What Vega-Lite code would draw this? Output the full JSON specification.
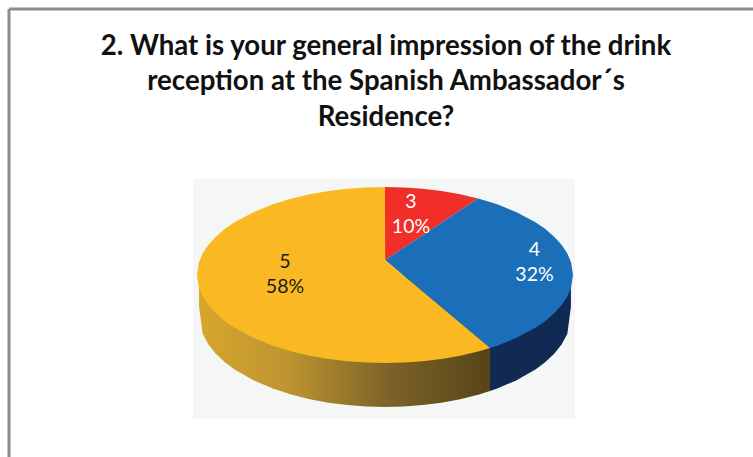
{
"$schema":"https://vega.github.io/schema/vega-lite/v6.json",
"width":744,"height":448,
"autosize":{"type":"none"},
"padding":{"left":9,"top":9,"right":0,"bottom":0},
"background":"white",
"view":{"stroke":null},
"title":{"text":["2. What is your general impression of the drink","reception at the Spanish Ambassador´s","Residence?"],"anchor":"middle","frame":"group","dx":5,"offset":-124,"font":"Lato","fontWeight":"bold","fontSize":27.6,"lineHeight":35.5,"color":"#111111"},
"datasets":{
"top":[
{"slice":"3","x":0,"y":1,"y2":0.17},{"slice":"3","x":0.1,"y":0.995,"y2":0.311},{"slice":"3","x":0.2,"y":0.98,"y2":0.453},{"slice":"3","x":0.3,"y":0.954,"y2":0.594},{"slice":"3","x":0.4,"y":0.917,"y2":0.735},{"slice":"3","x":0.4947,"y":0.869,"y2":0.869},
{"slice":"4","x":0,"y":0.17,"y2":0.17},{"slice":"4","x":0.1,"y":0.311,"y2":-0.009},{"slice":"4","x":0.2,"y":0.453,"y2":-0.188},{"slice":"4","x":0.3,"y":0.594,"y2":-0.367},{"slice":"4","x":0.4,"y":0.735,"y2":-0.546},{"slice":"4","x":0.4947,"y":0.869,"y2":-0.716},{"slice":"4","x":0.5585,"y":0.83,"y2":-0.83},{"slice":"4","x":0.6,"y":0.8,"y2":-0.8},{"slice":"4","x":0.7,"y":0.714,"y2":-0.714},{"slice":"4","x":0.8,"y":0.6,"y2":-0.6},{"slice":"4","x":0.85,"y":0.527,"y2":-0.527},{"slice":"4","x":0.9,"y":0.436,"y2":-0.436},{"slice":"4","x":0.94,"y":0.341,"y2":-0.341},{"slice":"4","x":0.97,"y":0.243,"y2":-0.243},{"slice":"4","x":0.99,"y":0.141,"y2":-0.141},{"slice":"4","x":1,"y":0,"y2":0},
{"slice":"5","x":-1,"y":0,"y2":0},{"slice":"5","x":-0.99,"y":0.141,"y2":-0.141},{"slice":"5","x":-0.97,"y":0.243,"y2":-0.243},{"slice":"5","x":-0.94,"y":0.341,"y2":-0.341},{"slice":"5","x":-0.9,"y":0.436,"y2":-0.436},{"slice":"5","x":-0.85,"y":0.527,"y2":-0.527},{"slice":"5","x":-0.8,"y":0.6,"y2":-0.6},{"slice":"5","x":-0.7,"y":0.714,"y2":-0.714},{"slice":"5","x":-0.6,"y":0.8,"y2":-0.8},{"slice":"5","x":-0.5,"y":0.866,"y2":-0.866},{"slice":"5","x":-0.4,"y":0.917,"y2":-0.917},{"slice":"5","x":-0.3,"y":0.954,"y2":-0.954},{"slice":"5","x":-0.2,"y":0.98,"y2":-0.98},{"slice":"5","x":-0.1,"y":0.995,"y2":-0.995},{"slice":"5","x":0,"y":1,"y2":-1},{"slice":"5","x":0.001,"y":0.17,"y2":-1},{"slice":"5","x":0.1,"y":-0.009,"y2":-0.995},{"slice":"5","x":0.2,"y":-0.188,"y2":-0.98},{"slice":"5","x":0.3,"y":-0.367,"y2":-0.954},{"slice":"5","x":0.4,"y":-0.546,"y2":-0.917},{"slice":"5","x":0.5,"y":-0.725,"y2":-0.866},{"slice":"5","x":0.5585,"y":-0.83,"y2":-0.83}
],
"wall5":[
{"x":-0.989,"y":0,"y2":-0.36},{"x":-0.97,"y":0,"y2":-0.668},{"x":-0.94,"y":0,"y2":-0.788},{"x":-0.9,"y":0,"y2":-0.895},{"x":-0.85,"y":0,"y2":-0.994},{"x":-0.8,"y":0,"y2":-1.074},{"x":-0.7,"y":0,"y2":-1.196},{"x":-0.6,"y":0,"y2":-1.288},{"x":-0.5,"y":0,"y2":-1.358},{"x":-0.4,"y":0,"y2":-1.412},{"x":-0.3,"y":0,"y2":-1.451},{"x":-0.2,"y":0,"y2":-1.478},{"x":-0.1,"y":0,"y2":-1.495},{"x":0,"y":0,"y2":-1.5},{"x":0.1,"y":0,"y2":-1.495},{"x":0.2,"y":0,"y2":-1.478},{"x":0.3,"y":0,"y2":-1.451},{"x":0.4,"y":0,"y2":-1.412},{"x":0.5,"y":0,"y2":-1.358},{"x":0.5585,"y":0,"y2":-1.319}
],
"wall4":[
{"x":0.5585,"y":0,"y2":-1.319},{"x":0.6,"y":0,"y2":-1.288},{"x":0.7,"y":0,"y2":-1.196},{"x":0.8,"y":0,"y2":-1.074},{"x":0.85,"y":0,"y2":-0.994},{"x":0.9,"y":0,"y2":-0.895},{"x":0.94,"y":0,"y2":-0.788},{"x":0.97,"y":0,"y2":-0.668},{"x":0.989,"y":0,"y2":-0.36}
],
"labels":[
{"slice":"3","label":"3\n10%","x":0.138,"y":0.835},
{"slice":"4","label":"4\n32%","x":0.795,"y":0.284},
{"slice":"5","label":"5\n58%","x":-0.532,"y":0.148}
]
},
"encoding":{
"x":{"type":"quantitative","axis":null,"scale":{"domain":[-2,1.957447],"nice":false,"zero":false}},
"y":{"type":"quantitative","axis":null,"scale":{"domain":[-2.06818,3.02273],"nice":false,"zero":false}}
},
"layer":[
{"data":{"values":[{"x":-1.021,"x2":1.011,"y":1.091,"y2":-1.636}]},"mark":{"type":"rect","color":"#F5F7F7"},"encoding":{"x":{"field":"x","type":"quantitative"},"x2":{"field":"x2"},"y":{"field":"y","type":"quantitative"},"y2":{"field":"y2"}}},
{"data":{"name":"wall5"},"mark":{"type":"area","line":false,"color":{"gradient":"linear","x1":0,"y1":0,"x2":1,"y2":0,"stops":[{"offset":0,"color":"#D6A62C"},{"offset":0.3,"color":"#BE9530"},{"offset":0.65,"color":"#7D6329"},{"offset":1,"color":"#574318"}]}},"encoding":{"x":{"field":"x","type":"quantitative"},"y":{"field":"y","type":"quantitative"},"y2":{"field":"y2"}}},
{"data":{"name":"wall4"},"mark":{"type":"area","color":"#102A54"},"encoding":{"x":{"field":"x","type":"quantitative"},"y":{"field":"y","type":"quantitative"},"y2":{"field":"y2"}}},
{"data":{"name":"top"},"mark":{"type":"area"},"encoding":{"x":{"field":"x","type":"quantitative"},"y":{"field":"y","type":"quantitative"},"y2":{"field":"y2"},"color":{"field":"slice","type":"nominal","legend":null,"scale":{"domain":["3","4","5"],"range":["#F12E27","#1B6FB8","#FAB823"]}}}},
{"data":{"name":"labels"},"mark":{"type":"text","font":"Lato","fontSize":19.5,"align":"center","baseline":"middle","lineBreak":"\n","lineHeight":25},"encoding":{"x":{"field":"x","type":"quantitative"},"y":{"field":"y","type":"quantitative"},"text":{"field":"label"},"color":{"condition":{"test":"datum.slice==='5'","value":"#1A1A1A"},"value":"#FFFFFF"}}},
{"data":{"values":[{"x":-2}]},"mark":{"type":"rule","color":"#8C8C8C","strokeWidth":3},"encoding":{"x":{"field":"x","type":"quantitative"},"y":{"value":0},"y2":{"value":448}}},
{"data":{"values":[{"y":3.02273}]},"mark":{"type":"rule","color":"#8C8C8C","strokeWidth":3},"encoding":{"y":{"field":"y","type":"quantitative"},"x":{"value":0},"x2":{"value":744}}}
]
}
